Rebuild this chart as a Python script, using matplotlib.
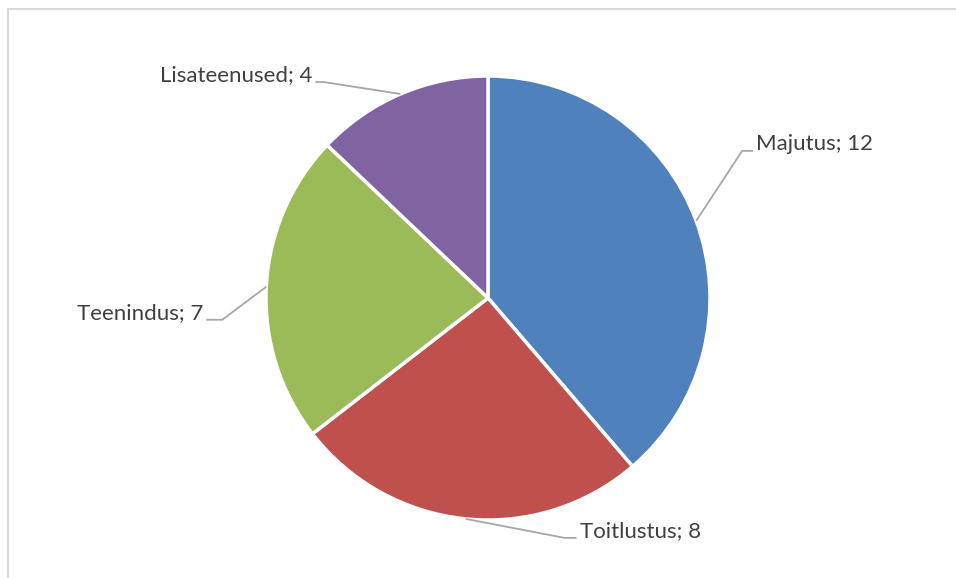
import numpy as np
import matplotlib.pyplot as plt
from matplotlib.patches import Rectangle

labels = ["Majutus", "Toitlustus", "Teenindus", "Lisateenused"]
values = [12, 8, 7, 4]
colors = ["#4F81BD", "#C0504D", "#9BBB59", "#8064A2"]

W, H = 956, 578
fig = plt.figure(figsize=(W / 100, H / 100), dpi=100)
ax = fig.add_axes([0, 0, 1, 1])

# chart frame (right and bottom edges run off the canvas)
ax.add_patch(Rectangle((8, -20), W + 20, H - 9 + 20, fill=False,
                       edgecolor="#d9d9d9", linewidth=1.5))

cx, cy, r = 488, H - 298, 222
wedges, _ = ax.pie(values, colors=colors, startangle=90, counterclock=False,
                   center=(cx, cy), radius=r, frame=True,
                   wedgeprops=dict(edgecolor="white", linewidth=2.5))
ax.set_xlim(0, W)
ax.set_ylim(0, H)
ax.set_aspect("equal")
ax.axis("off")

# label placement: (elbow offset from edge point, horizontal run, text side)
layout = {
    "Majutus": ((46, 70), 11, "left"),
    "Toitlustus": ((99, -19), 12, "left"),
    "Teenindus": ((-44, -33), -16, "right"),
    "Lisateenused": ((-77, 12), -8, "right"),
}

for w, lab, val in zip(wedges, labels, values):
    mid = np.deg2rad((w.theta1 + w.theta2) / 2)
    ex, ey = cx + r * np.cos(mid), cy + r * np.sin(mid)
    (dx, dy), run, side = layout[lab]
    kx, ky = ex + dx, ey + dy
    tx = kx + run
    ax.plot([ex, kx, tx], [ey, ky, ky], color="#a6a6a6", linewidth=1.3,
            solid_capstyle="butt")
    pad = 3 if side == "left" else -3
    ax.text(tx + pad, ky + 7, f"{lab}; {val}", ha=side, va="center",
            fontsize=16, family="Lato", color="#404040")

fig.savefig("out.png", dpi=100)
